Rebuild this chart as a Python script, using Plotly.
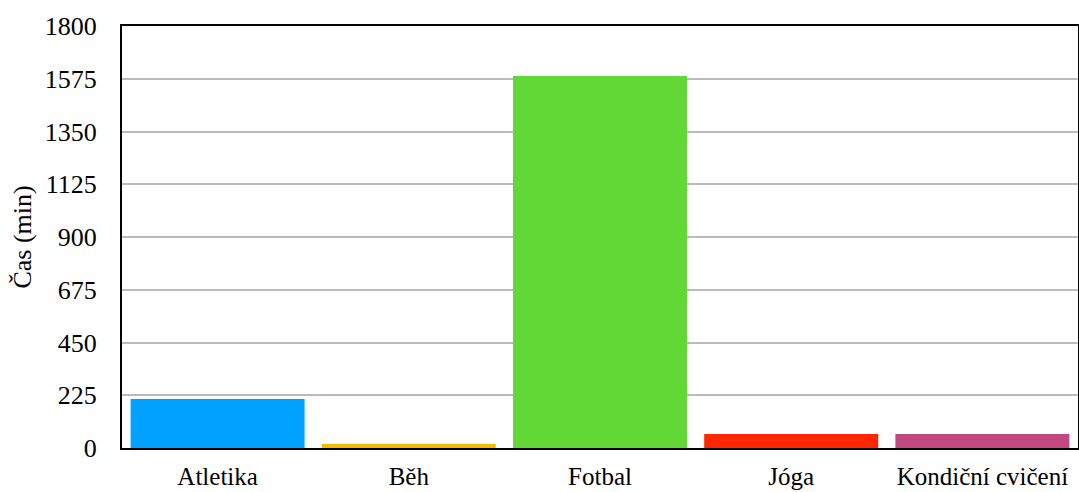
import plotly.graph_objects as go

# Minutes spent per activity
activities = ["Atletika", "Běh", "Fotbal", "Jóga", "Kondiční cvičení"]
minutes = [209, 17, 1587, 60, 60]
bar_colors = ["#00A2FF", "#F8BA00", "#61D836", "#FF2600", "#C1497F"]
y_ticks = [0, 225, 450, 675, 900, 1125, 1350, 1575, 1800]

font_family = "Liberation Serif, Times New Roman, serif"

fig = go.Figure(
    go.Bar(
        x=activities,
        y=minutes,
        marker=dict(color=bar_colors, line=dict(width=0)),
        hoverinfo="x+y",
    )
)

fig.update_layout(
    width=1079,
    height=492,
    margin=dict(l=122, r=1, t=26, b=44),
    paper_bgcolor="white",
    plot_bgcolor="white",
    bargap=0.09,
    showlegend=False,
    font=dict(family=font_family, size=26, color="black"),
)

fig.update_xaxes(
    automargin=False,
    showline=True,
    linecolor="black",
    linewidth=2,
    mirror=True,
    showgrid=False,
    ticks="",
    ticklabelstandoff=5,
    tickfont=dict(family=font_family, size=25, color="black"),
)

fig.update_yaxes(
    automargin=False,
    range=[0, 1800],
    tickvals=y_ticks,
    ticktext=[str(v) for v in y_ticks],
    showline=True,
    linecolor="black",
    linewidth=2,
    mirror=True,
    showgrid=True,
    gridcolor="#BBBBBB",
    gridwidth=2,
    zeroline=False,
    ticks="",
    ticklabelstandoff=18,
    tickfont=dict(family=font_family, size=26, color="black"),
    title=dict(text="Čas (min)", font=dict(family=font_family, size=26, color="black"), standoff=6),
)

fig.write_html("out.html")
